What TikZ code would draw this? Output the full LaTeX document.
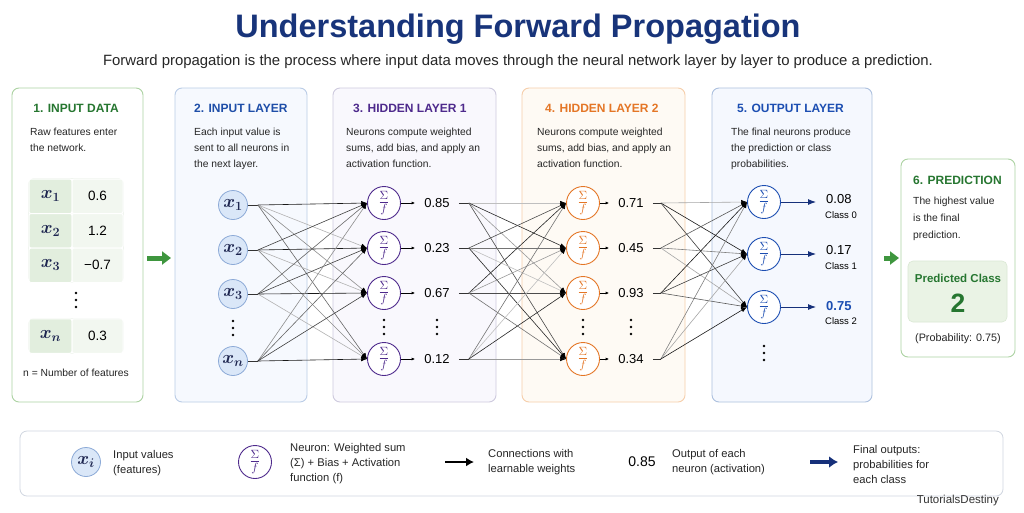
\documentclass[tikz,border=0pt]{standalone}
\usepackage{fix-cm}
\usepackage{fontspec}
\setmainfont{Liberation Sans}
\usepackage{amsmath}
\usetikzlibrary{arrows.meta, positioning}

\definecolor{TitleNavy}{RGB}{24,52,122}
\definecolor{DataGreen}{RGB}{38,118,48}
\definecolor{DataEdge}{RGB}{172,210,162}
\definecolor{CellKey}{RGB}{226,238,222}
\definecolor{CellVal}{RGB}{242,247,240}
\definecolor{CellEdge}{RGB}{214,228,210}
\definecolor{InBlue}{RGB}{30,78,168}
\definecolor{InEdge}{RGB}{186,204,230}
\definecolor{InFill}{RGB}{246,249,254}
\definecolor{NodeBlue}{RGB}{218,231,248}
\definecolor{NodeBlueEdge}{RGB}{140,170,215}
\definecolor{MathNavy}{RGB}{30,38,80}
\definecolor{HidPurple}{RGB}{78,42,140}
\definecolor{HidEdge}{RGB}{206,202,222}
\definecolor{HidFill}{RGB}{249,248,253}
\definecolor{HidOrange}{RGB}{228,118,38}
\definecolor{OrEdge}{RGB}{246,206,170}
\definecolor{OrFill}{RGB}{254,250,244}
\definecolor{OutBlue}{RGB}{28,78,178}
\definecolor{OutEdge}{RGB}{172,192,222}
\definecolor{OutFill}{RGB}{245,248,254}
\definecolor{ArrowNavy}{RGB}{22,48,122}
\definecolor{FlowGreen}{RGB}{62,150,62}
\definecolor{PredFill}{RGB}{234,243,229}
\definecolor{PredEdge}{RGB}{218,232,212}
\definecolor{LegendEdge}{RGB}{208,214,224}

\newcommand{\sumf}{$\frac{\Sigma}{f}$}
\tikzset{vdots/.pic={\foreach \k in {-7,0,7} \fill (0,\k) circle (1.3pt);}}

\begin{document}
\begin{tikzpicture}[x=1pt, y=-1pt,
  panel/.style={rectangle, rounded corners=7pt, line width=0.9pt, inner sep=0pt},
  heading/.style={anchor=west, inner sep=0pt, font=\fontsize{12}{14}\selectfont\bfseries},
  blurb/.style={anchor=north west, align=left, inner sep=0pt, text=black!85,
                font=\fontsize{10.3}{16}\selectfont},
  keycell/.style={rectangle, rounded corners=2pt, fill=CellKey, draw=white, line width=1pt,
                  minimum width=43pt, minimum height=34.5pt, inner sep=0pt, text=MathNavy,
                  font=\fontsize{18}{18}\selectfont},
  valcell/.style={keycell, fill=CellVal, minimum width=51pt, text=black,
                  font=\fontsize{13.5}{14}\selectfont},
  inneuron/.style={circle, draw=NodeBlueEdge, fill=NodeBlue, line width=0.8pt, text=MathNavy,
                   minimum size=29pt, inner sep=0pt, font=\fontsize{18}{18}\selectfont},
  neuron/.style={circle, draw=#1, text=#1, fill=white, line width=0.9pt,
                 minimum size=33pt, inner sep=0pt, font=\fontsize{17}{17}\selectfont},
  act/.style={inner xsep=9pt, inner ysep=2pt, font=\fontsize{13}{14}\selectfont},
  link/.style={line width=0.6pt, -{Latex[length=6pt, width=4.5pt, color=black]}},
  stub/.style={line width=0.7pt, black!80},
  tickarrow/.style={line width=0.7pt, -{Latex[length=3.5pt, width=3pt]}},
  flow/.style={FlowGreen, line width=5pt, -{Triangle[length=9pt, width=13pt]}},
  legtext/.style={anchor=west, align=left, inner sep=0pt, text=black!85,
                  font=\fontsize{11.2}{15}\selectfont},
]
\fill[white] (0,0) rectangle (1024,512);
\useasboundingbox (0,0) rectangle (1024,512);

% Title
\node[anchor=base, text=TitleNavy, font=\fontsize{32.5}{36}\selectfont\bfseries] (title)
  at (518,37) {Understanding Forward Propagation};
\node[anchor=base, text=black!85, font=\fontsize{14.9}{17}\selectfont] (subtitle) at (518,65)
  {Forward propagation is the process where input data moves through the neural network layer by layer to produce a prediction.};

% Panels
\node[panel, draw=DataEdge, fill=white, minimum width=131pt, minimum height=314pt] (datapanel) at (77.5,245) {};
\node[panel, draw=InEdge, fill=InFill, minimum width=132pt, minimum height=314pt] (inpanel) at (241,245) {};
\node[panel, draw=HidEdge, fill=HidFill, minimum width=163pt, minimum height=314pt] (hidpanel) at (414.5,245) {};
\node[panel, draw=OrEdge, fill=OrFill, minimum width=163pt, minimum height=314pt] (orpanel) at (603.5,245) {};
\node[panel, draw=OutEdge, fill=OutFill, minimum width=160pt, minimum height=314pt] (outpanel) at (792,245) {};
\node[panel, draw=DataEdge, fill=white, minimum width=114pt, minimum height=198pt] (predpanel) at (958,258) {};

% 1. Input data
\node[heading, anchor=center, text=DataGreen] (h-data) at (76,108) {1. INPUT DATA};
\node[blurb] (b-data) at (30,128) {Raw features enter\\the network.};
\draw[CellEdge, line width=0.8pt, rounded corners=4pt] (29,179) rectangle (123,282);
\draw[CellEdge, line width=0.8pt, rounded corners=4pt] (29,319) rectangle (123,353);
\node[keycell] (k1) at (50.5,196.25) {$\boldsymbol{x_1}$};
\node[valcell] (d1) at (97.5,196.25) {0.6};
\node[keycell] (k2) at (50.5,230.75) {$\boldsymbol{x_2}$};
\node[valcell] (d2) at (97.5,230.75) {1.2};
\node[keycell] (k3) at (50.5,265.25) {$\boldsymbol{x_3}$};
\node[valcell] (d3) at (97.5,265.25) {−0.7};
\pic at (76,300) {vdots};
\node[keycell] (kn) at (50.5,336) {$\boldsymbol{x_n}$};
\node[valcell] (dn) at (97.5,336) {0.3};
\node[font=\fontsize{10.3}{12}\selectfont, text=black!85] (nfeat) at (76,373) {n = Number of features};

% 2. Input layer
\node[heading, text=InBlue] (h-in) at (194,108) {2. INPUT LAYER};
\node[blurb] (b-in) at (194,128) {Each input value is\\sent to all neurons in\\the next layer.};
\node[inneuron] (in1) at (233,205) {$\boldsymbol{x_1}$};
\node[inneuron] (in2) at (233,250) {$\boldsymbol{x_2}$};
\node[inneuron] (in3) at (233,294) {$\boldsymbol{x_3}$};
\pic at (233,328) {vdots};
\node[inneuron] (in4) at (233,361) {$\boldsymbol{x_n}$};

% 3. Hidden layer 1
\node[heading, text=HidPurple] (h-hid) at (353,108) {3. HIDDEN LAYER 1};
\node[blurb] (b-hid) at (346,128) {Neurons compute weighted\\sums, add bias, and apply an\\activation function.};
\node[neuron=HidPurple] (h1) at (384,203) {\sumf};
\node[neuron=HidPurple] (h2) at (384,248) {\sumf};
\node[neuron=HidPurple] (h3) at (384,293) {\sumf};
\node[neuron=HidPurple] (h4) at (384,359) {\sumf};
\node[act] (v1) at (437,203) {0.85};
\node[act] (v2) at (437,248) {0.23};
\node[act] (v3) at (437,293) {0.67};
\node[act] (v4) at (437,359) {0.12};
\pic at (384,327) {vdots};
\pic at (437,327) {vdots};

% 4. Hidden layer 2
\node[heading, text=HidOrange] (h-or) at (545,108) {4. HIDDEN LAYER 2};
\node[blurb] (b-or) at (537,128) {Neurons compute weighted\\sums, add bias, and apply an\\activation function.};
\node[neuron=HidOrange] (g1) at (583,203) {\sumf};
\node[neuron=HidOrange] (g2) at (583,248) {\sumf};
\node[neuron=HidOrange] (g3) at (583,293) {\sumf};
\node[neuron=HidOrange] (g4) at (583,359) {\sumf};
\node[act] (w1) at (631,203) {0.71};
\node[act] (w2) at (631,248) {0.45};
\node[act] (w3) at (631,293) {0.93};
\node[act] (w4) at (631,359) {0.34};
\pic at (583,327) {vdots};
\pic at (631,327) {vdots};

% 5. Output layer
\node[heading, text=OutBlue] (h-out) at (737,108) {5. OUTPUT LAYER};
\node[blurb] (b-out) at (731,128) {The final neurons produce\\the prediction or class\\probabilities.};
\node[neuron=OutBlue] (o1) at (764,202) {\sumf};
\node[neuron=OutBlue] (o2) at (764,254) {\sumf};
\node[neuron=OutBlue] (o3) at (764,307) {\sumf};
\pic at (764,353) {vdots};
\node[anchor=west, inner xsep=10pt, inner ysep=1pt, font=\fontsize{13}{14}\selectfont] (p1) at (816,199) {0.08};
\node[anchor=west, inner xsep=10pt, inner ysep=1pt, font=\fontsize{13}{14}\selectfont] (p2) at (816,250) {0.17};
\node[anchor=west, inner xsep=10pt, inner ysep=1pt, text=OutBlue, font=\fontsize{13}{14}\selectfont\bfseries] (p3) at (816,306) {0.75};
\node[anchor=west, inner sep=0pt, font=\fontsize{9.5}{11}\selectfont] (c1) at (825,215) {Class 0};
\node[anchor=west, inner sep=0pt, font=\fontsize{9.5}{11}\selectfont] (c2) at (825,266) {Class 1};
\node[anchor=west, inner sep=0pt, font=\fontsize{9.5}{11}\selectfont] (c3) at (825,321) {Class 2};

% 6. Prediction
\node[heading, text=DataGreen] (h-pred) at (913,180) {6. PREDICTION};
\node[blurb, font=\fontsize{10.3}{17}\selectfont] (b-pred) at (913,197) {The highest value\\is the final\\prediction.};
\node[rectangle, rounded corners=5pt, fill=PredFill, draw=PredEdge, line width=0.6pt,
      minimum width=99pt, minimum height=61pt] (predbox) at (957.5,291.5) {};
\node[text=DataGreen, font=\fontsize{11.5}{13}\selectfont\bfseries] (predlabel) at (958,278) {Predicted Class};
\node[text=DataGreen, font=\fontsize{26.5}{28}\selectfont\bfseries] (predclass) at (958,303) {2};
\node[font=\fontsize{10.8}{12}\selectfont, text=black!85] (prob) at (958,339) {(Probability: 0.75)};

% Flow arrows between stages
\coordinate (fa) at (147,258);
\coordinate (fb) at (171,258);
\coordinate (fc) at (884,258);
\coordinate (fd) at (899,258);
\draw[flow] (fa) -- (fb);
\draw[flow] (fc) -- (fd);

% Input layer -> hidden layer 1
\foreach \i in {1,...,4}
  \draw[stub] (in\i.east) -- ++(10,0) coordinate (ia\i);
\foreach \i in {1,...,4}
  \foreach \j in {1,...,4}{
    \pgfmathtruncatemacro\wgray{{90,45,75,30,60}[int(mod(2*\i+3*\j,5))]}
    \draw[link, black!\wgray] (ia\i) -- (h\j.west);
  }

% Hidden layer 1 -> hidden layer 2
\foreach \i in {1,...,4}{
  \draw[tickarrow] (h\i.east) -- (v\i.west);
  \draw[stub] (v\i.east) -- ++(10,0) coordinate (ha\i);
}
\foreach \i in {1,...,4}
  \foreach \j in {1,...,4}{
    \pgfmathtruncatemacro\wgray{{85,40,70,55,25}[int(mod(3*\i+\j,5))]}
    \draw[link, black!\wgray] (ha\i) -- (g\j.west);
  }

% Hidden layer 2 -> output layer
\foreach \i in {1,...,4}{
  \draw[tickarrow] (g\i.east) -- (w\i.west);
  \draw[stub] (w\i.east) -- ++(8,0) coordinate (ga\i);
}
\foreach \i in {1,...,4}
  \foreach \j in {1,...,3}{
    \pgfmathtruncatemacro\wgray{{90,50,75,35,65}[int(mod(\i+2*\j,5))]}
    \draw[link, black!\wgray] (ga\i) -- (o\j.west);
  }

% Output probabilities
\foreach \j in {1,2,3}
  \draw[ArrowNavy, line width=0.9pt, -{Latex[length=8pt, width=6pt]}] (o\j.east) -- (o\j.east -| p\j.west);

% Legend
\node[panel, draw=LegendEdge, fill=white, line width=0.8pt, minimum width=983pt, minimum height=65pt] (legend) at (511.5,463.5) {};
\node[inneuron] (lx) at (86,462) {$\boldsymbol{x_i}$};
\node[legtext] (lxt) at (113,463.5) {Input values\\(features)};
\node[neuron=HidPurple] (lneuron) at (255,462) {\sumf};
\node[legtext] (lnt) at (290,464) {Neuron: Weighted sum\\(Σ) + Bias + Activation\\function (f)};
\coordinate (la) at (445,462);
\coordinate (lb) at (474,462);
\draw[black, line width=2.2pt, -{Latex[length=8pt, width=9pt]}] (la) -- (lb);
\node[legtext] (lct) at (488,462.5) {Connections with\\learnable weights};
\node[font=\fontsize{14}{15}\selectfont] (lval) at (642,462) {0.85};
\node[legtext] (lvt) at (672,462.5) {Output of each\\neuron (activation)};
\coordinate (lc) at (810,462);
\coordinate (ld) at (838,462);
\draw[ArrowNavy, line width=3.5pt, -{Latex[length=9pt, width=12pt]}] (lc) -- (ld);
\node[legtext] (lot) at (853,464) {Final outputs:\\probabilities for\\each class};
\node[anchor=east, inner sep=0pt, text=black!80, font=\fontsize{11.5}{13}\selectfont] (brand) at (999,501) {TutorialsDestiny};
\end{tikzpicture}
\end{document}
